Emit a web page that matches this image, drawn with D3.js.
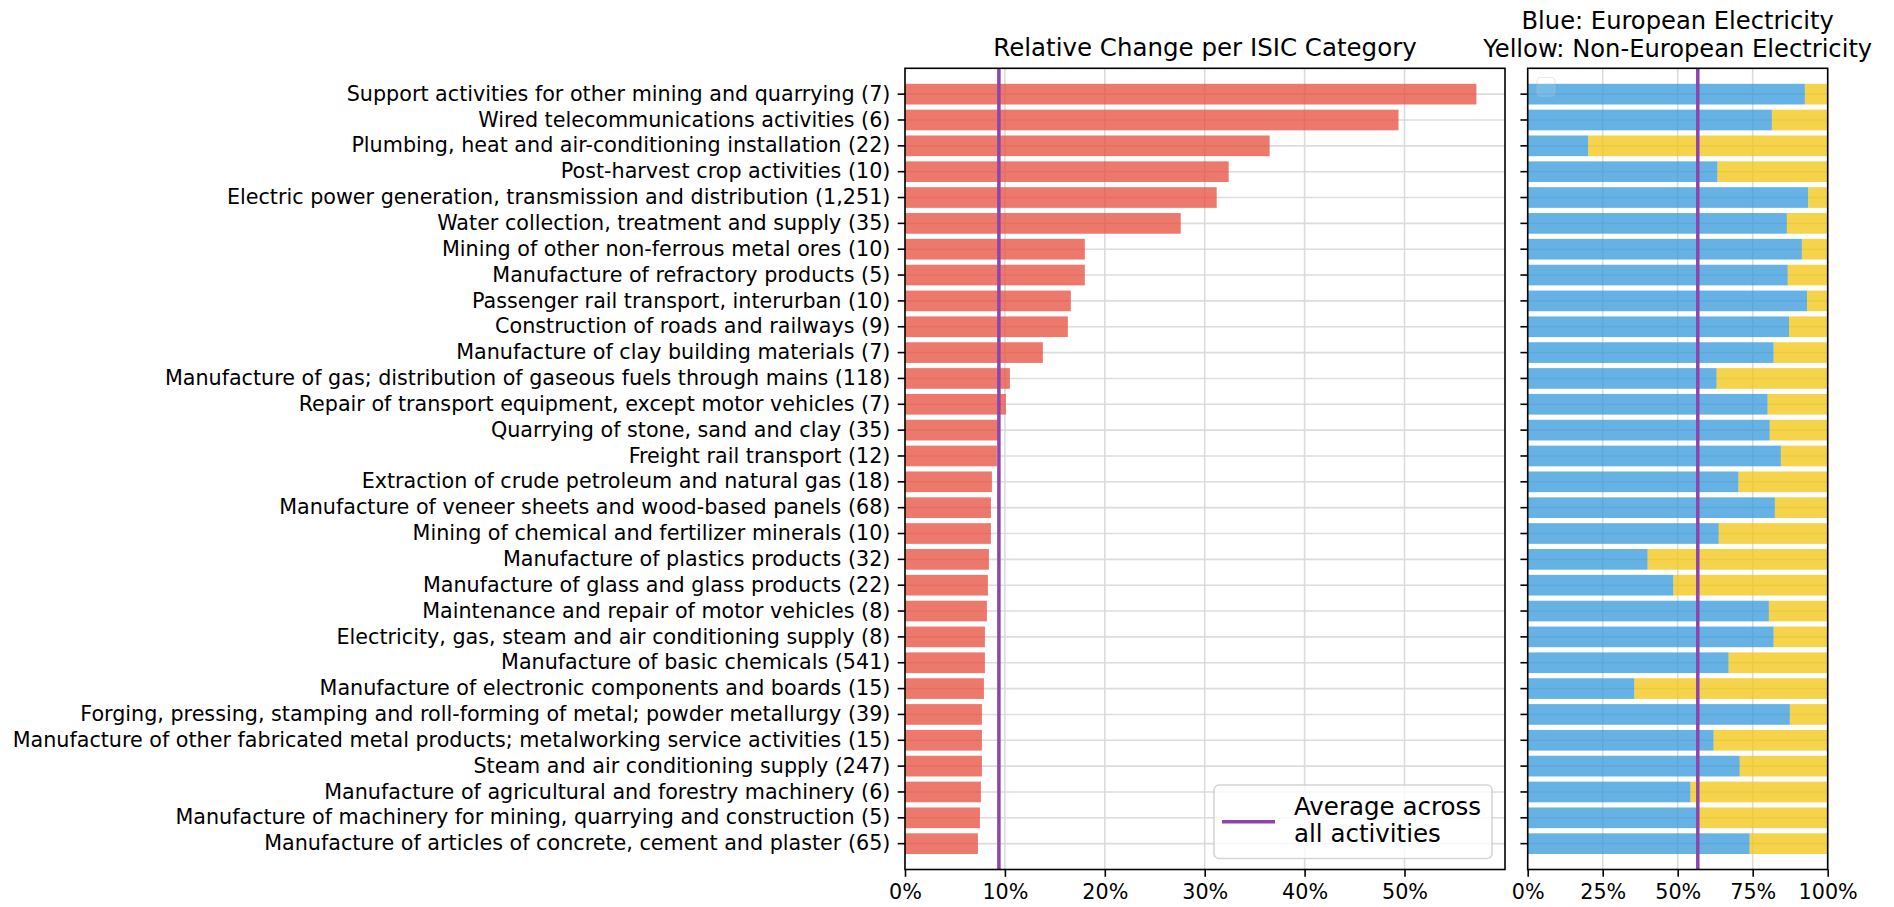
<!DOCTYPE html>
<html><head><meta charset="utf-8">
<script src="https://cdn.jsdelivr.net/npm/d3@7"></script>
<style>
body{margin:0;background:#fff}
svg{display:block}
text{font-family:"DejaVu Sans",sans-serif;fill:#000}
</style>
</head><body>
<svg id="chart" width="1894" height="907"></svg>
<script>
// ---------------- DATA ----------------
const categories = [
  "Support activities for other mining and quarrying (7)",
  "Wired telecommunications activities (6)",
  "Plumbing, heat and air-conditioning installation (22)",
  "Post-harvest crop activities (10)",
  "Electric power generation, transmission and distribution (1,251)",
  "Water collection, treatment and supply (35)",
  "Mining of other non-ferrous metal ores (10)",
  "Manufacture of refractory products (5)",
  "Passenger rail transport, interurban (10)",
  "Construction of roads and railways (9)",
  "Manufacture of clay building materials (7)",
  "Manufacture of gas; distribution of gaseous fuels through mains (118)",
  "Repair of transport equipment, except motor vehicles (7)",
  "Quarrying of stone, sand and clay (35)",
  "Freight rail transport (12)",
  "Extraction of crude petroleum and natural gas (18)",
  "Manufacture of veneer sheets and wood-based panels (68)",
  "Mining of chemical and fertilizer minerals (10)",
  "Manufacture of plastics products (32)",
  "Manufacture of glass and glass products (22)",
  "Maintenance and repair of motor vehicles (8)",
  "Electricity, gas, steam and air conditioning supply (8)",
  "Manufacture of basic chemicals (541)",
  "Manufacture of electronic components and boards (15)",
  "Forging, pressing, stamping and roll-forming of metal; powder metallurgy (39)",
  "Manufacture of other fabricated metal products; metalworking service activities (15)",
  "Steam and air conditioning supply (247)",
  "Manufacture of agricultural and forestry machinery (6)",
  "Manufacture of machinery for mining, quarrying and construction (5)",
  "Manufacture of articles of concrete, cement and plaster (65)"
];
const relativeChange = [
  0.572, 0.494, 0.365, 0.324, 0.312, 0.276, 0.180, 0.180, 0.166, 0.163,
  0.138, 0.105, 0.101, 0.093, 0.092, 0.087, 0.086, 0.086, 0.084, 0.083,
  0.082, 0.080, 0.080, 0.079, 0.077, 0.077, 0.077, 0.076, 0.075, 0.073
];
const europeanShare = [
  0.924, 0.814, 0.202, 0.633, 0.935, 0.864, 0.914, 0.867, 0.931, 0.871,
  0.820, 0.630, 0.800, 0.807, 0.844, 0.703, 0.824, 0.637, 0.400, 0.486,
  0.804, 0.820, 0.670, 0.356, 0.874, 0.620, 0.707, 0.543, 0.570, 0.740
];
const averageChange = 0.094;
const averageEuropeanShare = 0.567;
const leftTicks = [0, 0.1, 0.2, 0.3, 0.4, 0.5];
const rightTicks = [0, 0.25, 0.5, 0.75, 1];
const leftTitle = "Relative Change per ISIC Category";
const rightTitle = ["Blue: European Electricity", "Yellow: Non-European Electricity"];
const legendLines = ["Average across", "all activities"];

// ---------------- LAYOUT ----------------
const svg = d3.select("#chart");
const yTop = 68.3, yBot = 869.5;
const L = {x0: 905, x1: 1505};
const R = {x0: 1527.7, x1: 1827.7};
const step = (yBot - yTop) / 31;
const FS = 20.7, TFS = 24.5, TICK = 7.3, PAD = 7.3;
const red = "#e74c3c", blue = "#3498db", yellow = "#f1c40f", purple = "#8e44ad";
const gridColor = "#dcdcdc";

const y = d3.scaleBand().domain(categories)
  .range([yTop + step * 0.5, yBot - step * 0.5])
  .paddingInner(0.2).paddingOuter(0.1);
const xL = d3.scaleLinear().domain([0, 0.6006]).range([L.x0, L.x1]);
const xR = d3.scaleLinear().domain([0, 1]).range([R.x0, R.x1]);
const yc = d => y(d) + y.bandwidth() / 2;

function panel(x, ticks) {
  const g = svg.append("g");
  g.append("g").selectAll("line").data(ticks).join("line")
    .attr("x1", d => x(d)).attr("x2", d => x(d))
    .attr("y1", yTop).attr("y2", yBot)
    .attr("stroke", gridColor).attr("stroke-width", 1.6);
  g.append("g").selectAll("line").data(categories).join("line")
    .attr("x1", x.range()[0]).attr("x2", x.range()[1])
    .attr("y1", d => yc(d)).attr("y2", d => yc(d))
    .attr("stroke", gridColor).attr("stroke-width", 1.6);
  return g;
}

// Left panel
const gL = panel(xL, leftTicks);
gL.append("g").selectAll("rect").data(categories).join("rect")
  .attr("x", xL(0)).attr("y", d => y(d))
  .attr("width", (d, i) => xL(relativeChange[i]) - xL(0))
  .attr("height", y.bandwidth())
  .attr("fill", red).attr("fill-opacity", 0.75);
gL.append("line")
  .attr("x1", xL(averageChange)).attr("x2", xL(averageChange))
  .attr("y1", yTop).attr("y2", yBot)
  .attr("stroke", purple).attr("stroke-width", 3.5);

// Right panel
const gR = panel(xR, rightTicks);
gR.append("g").selectAll("rect").data(categories).join("rect")
  .attr("x", xR(0)).attr("y", d => y(d))
  .attr("width", (d, i) => xR(europeanShare[i]) - xR(0))
  .attr("height", y.bandwidth())
  .attr("fill", blue).attr("fill-opacity", 0.75);
gR.append("g").selectAll("rect").data(categories).join("rect")
  .attr("x", (d, i) => xR(europeanShare[i])).attr("y", d => y(d))
  .attr("width", (d, i) => xR(1) - xR(europeanShare[i]))
  .attr("height", y.bandwidth())
  .attr("fill", yellow).attr("fill-opacity", 0.75);
gR.append("line")
  .attr("x1", xR(averageEuropeanShare)).attr("x2", xR(averageEuropeanShare))
  .attr("y1", yTop).attr("y2", yBot)
  .attr("stroke", purple).attr("stroke-width", 3.5);
// empty legend box (faint)
gR.append("rect").attr("x", 1537).attr("y", 77.5).attr("width", 18).attr("height", 19).attr("rx", 4)
  .attr("fill", "#fff").attr("fill-opacity", 0.12).attr("stroke", "#bbb").attr("stroke-opacity", 0.35).attr("stroke-width", 1.2);

// Axes
function styleAxis(g) {
  g.selectAll(".domain").remove();
  g.selectAll(".tick line").attr("stroke", "#000").attr("stroke-width", 1.6);
  g.selectAll(".tick text").attr("font-size", FS).attr("font-family", "DejaVu Sans").attr("fill", "#000");
}
svg.append("g").attr("transform", `translate(${L.x0},0)`)
  .call(d3.axisLeft(y).tickSize(TICK).tickPadding(PAD)).call(styleAxis);
svg.append("g").attr("transform", `translate(${R.x0},0)`)
  .call(d3.axisLeft(y).tickSize(TICK).tickFormat("")).call(styleAxis);
svg.append("g").attr("transform", `translate(0,${yBot})`)
  .call(d3.axisBottom(xL).tickValues(leftTicks).tickFormat(d3.format(".0%")).tickSize(TICK).tickPadding(PAD)).call(styleAxis);
svg.append("g").attr("transform", `translate(0,${yBot})`)
  .call(d3.axisBottom(xR).tickValues(rightTicks).tickFormat(d3.format(".0%")).tickSize(TICK).tickPadding(PAD)).call(styleAxis);

// Spines
[L, R].forEach(p => {
  svg.append("rect").attr("x", p.x0).attr("y", yTop)
    .attr("width", p.x1 - p.x0).attr("height", yBot - yTop)
    .attr("fill", "none").attr("stroke", "#000").attr("stroke-width", 1.6);
});

// Titles
svg.append("text").attr("x", (L.x0 + L.x1) / 2).attr("y", 56)
  .attr("text-anchor", "middle").attr("font-size", TFS).text(leftTitle);
rightTitle.forEach((t, i) => {
  svg.append("text").attr("x", (R.x0 + R.x1) / 2).attr("y", 29.2 + i * 27.4)
    .attr("text-anchor", "middle").attr("font-size", 24.2).text(t);
});

// Legend
const lg = svg.append("g");
lg.append("rect").attr("x", 1214).attr("y", 785).attr("width", 278).attr("height", 73.5).attr("rx", 5)
  .attr("fill", "#fff").attr("fill-opacity", 0.8).attr("stroke", "#cccccc").attr("stroke-opacity", 0.8).attr("stroke-width", 1.6);
lg.append("line").attr("x1", 1222).attr("x2", 1275).attr("y1", 821.7).attr("y2", 821.7)
  .attr("stroke", purple).attr("stroke-width", 3.5);
legendLines.forEach((t, i) => {
  lg.append("text").attr("x", 1294).attr("y", 806.7 + i * 26.6).attr("dy", "0.35em")
    .attr("font-size", TFS).text(t);
});
</script>
</body></html>
